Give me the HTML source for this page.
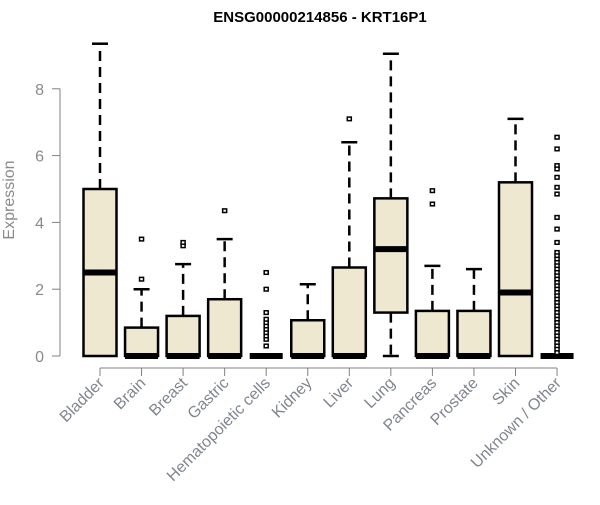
<!DOCTYPE html>
<html><head><meta charset="utf-8"><style>
body{margin:0;background:#fff}
svg{font-family:"Liberation Sans",sans-serif}
</style></head><body>
<svg id="chart" width="600" height="500" viewBox="0 0 600 500">
<text x="320" y="22" text-anchor="middle" font-weight="bold" font-size="15">ENSG00000214856 - KRT16P1</text>
<text transform="translate(14,200) rotate(-90)" text-anchor="middle" font-size="16" fill="#8a8a8a">Expression</text>
<g id="axes"></g><g id="boxes"></g>
</svg>
<script>
const categories=["Bladder","Brain","Breast","Gastric","Hematopoietic cells","Kidney","Liver","Lung","Pancreas","Prostate","Skin","Unknown / Other"];
const q1=[0,0,0,0,0,0,0,1.3,0,0,0,0];
const med=[2.5,0,0,0,0,0,0,3.2,0,0,1.9,0];
const q3=[5.0,0.85,1.2,1.7,0,1.07,2.65,4.72,1.35,1.35,5.2,0];
const whiskLo=[0,0,0,0,0,0,0,0,0,0,0,0];
const whiskHi=[9.35,2.0,2.75,3.5,0,2.15,6.4,9.05,2.7,2.6,7.1,0];
const unk=[6.55,6.2,5.7,5.6,5.35,5.05,4.85,4.15,3.8,3.4,3.1,3.0,2.9,2.8,2.7,2.6,2.5,2.4,2.3,2.2,2.1,2.0,1.9,1.8,1.7,1.6,1.5,1.4,1.3,1.2,1.1,1.0,0.9,0.8,0.7,0.6,0.5,0.4,0.3,0.2,0.1];
const outliers=[[],[2.3,3.5],[3.3,3.4],[4.35],[0.3,0.5,0.6,0.7,0.8,0.9,1.0,1.1,1.3,2.0,2.5],[],[7.1],[],[4.55,4.95],[],[],unk];
const yTicks=[0,2,4,6,8];
const NS="http://www.w3.org/2000/svg";
const y=v=>356-v*33.4;
const x=i=>100+i*41.55;
function mk(tag,attrs,parent){const e=document.createElementNS(NS,tag);for(const k in attrs)e.setAttribute(k,attrs[k]);parent.appendChild(e);return e;}
const ax=document.getElementById('axes'),bx=document.getElementById('boxes');
let l=mk('line',{x1:60,x2:60,y1:y(8),y2:y(0),stroke:'#808080'},ax);


yTicks.forEach(t=>{
 const tk=mk('line',{x1:52,x2:60,y1:y(t),y2:y(t),stroke:'#808080'},ax);
 
 
 const tx=mk('text',{x:44,y:y(t)+6,'text-anchor':'end','font-size':16,fill:'#8a8a8a'},ax);
 tx.textContent=t;
 
 
});
l=mk('line',{x1:x(0),x2:x(11),y1:368,y2:368,stroke:'#808080'},ax);


categories.forEach((c,i)=>{
 const tk=mk('line',{x1:x(i),x2:x(i),y1:368,y2:376,stroke:'#808080'},ax);
 
 
 const tx=mk('text',{transform:`translate(${x(i)+5},${384}) rotate(-45)`,'text-anchor':'end','font-size':16,fill:'#808590'},ax);
 tx.textContent=c;
 
 
 const g=mk('g',{},bx);
 
 
 const cx=x(i),w=16.5;
 if(whiskHi[i]>q3[i]){
  mk('line',{x1:cx,x2:cx,y1:y(q3[i]),y2:y(whiskHi[i]),stroke:'#000','stroke-width':2.5,'stroke-dasharray':'10,6'},g);
  mk('line',{x1:cx-8,x2:cx+8,y1:y(whiskHi[i]),y2:y(whiskHi[i]),stroke:'#000','stroke-width':2.5},g);
 }
 if(q1[i]>whiskLo[i]){
  mk('line',{x1:cx,x2:cx,y1:y(q1[i]),y2:y(whiskLo[i]),stroke:'#000','stroke-width':2.5,'stroke-dasharray':'10,6'},g);
  mk('line',{x1:cx-8,x2:cx+8,y1:y(whiskLo[i]),y2:y(whiskLo[i]),stroke:'#000','stroke-width':2.5},g);
 }
 mk('rect',{x:cx-w,y:y(q3[i]),width:2*w,height:Math.max(0,y(q1[i])-y(q3[i])),fill:'#ede8cf',stroke:'#000','stroke-width':2.5},g);
 mk('line',{x1:cx-w,x2:cx+w,y1:y(med[i]),y2:y(med[i]),stroke:'#000','stroke-width':6},g);
 outliers[i].forEach(v=>{
  const p=mk('rect',{x:cx-2,y:y(v)-1.8,width:4,height:3.6,fill:'#fff',stroke:'#000','stroke-width':1.5},g);
  
  
 });
});
</script>
</body></html>
